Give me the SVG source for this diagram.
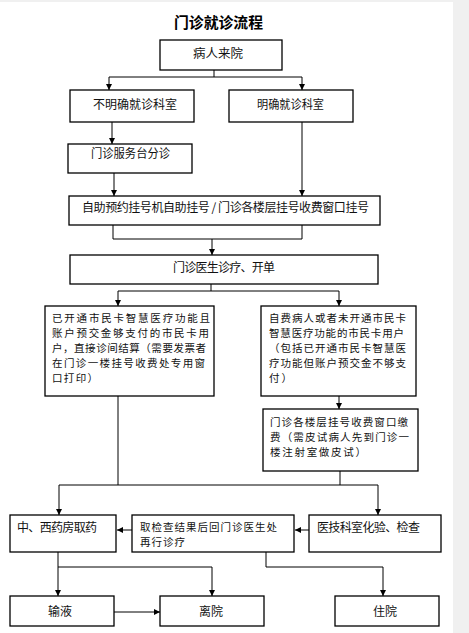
<svg xmlns="http://www.w3.org/2000/svg" width="469" height="633" viewBox="0 0 469 633">
<style>
.box{fill:#fff;stroke:#000;stroke-width:1.3}
.t{font-family:"Noto Sans CJK SC","Noto Sans CJK JP",sans-serif;font-size:12px;fill:#111}
.m{font-family:"Noto Sans CJK SC","Noto Sans CJK JP",sans-serif;font-size:10.5px;fill:#111}
.title{font-family:"Noto Sans CJK SC",sans-serif;font-size:15px;font-weight:bold;fill:#000}
.c{fill:none;stroke:#000;stroke-width:1}
</style>
<defs>
<marker id="ah" viewBox="0 0 8 8" refX="8" refY="4" markerWidth="6" markerHeight="6" markerUnits="userSpaceOnUse" orient="auto">
<path d="M0,0 L8,4 L0,8 z" fill="#000"/>
</marker>
</defs>
<rect x="0" y="0" width="469" height="633" fill="#fff"/>
<rect x="453" y="0" width="16" height="633" fill="#f0f0f0"/>
<rect x="0" y="0" width="453" height="2" fill="#f0f0f0"/>
<text class="title" x="174" y="27.5" textLength="89" lengthAdjust="spacingAndGlyphs">门诊就诊流程</text>

<g id="connectors">
<path class="c" d="M214,70 V77 M109,77 H302"/>
<path class="c" d="M109,77 V90" marker-end="url(#ah)"/>
<path class="c" d="M302,77 V90" marker-end="url(#ah)"/>
<path class="c" d="M112,122 V144" marker-end="url(#ah)"/>
<path class="c" d="M114,173 V196" marker-end="url(#ah)"/>
<path class="c" d="M302,122 V196" marker-end="url(#ah)"/>
<path class="c" d="M113,225 V239 H302 V225"/>
<path class="c" d="M212,239 V255" marker-end="url(#ah)"/>
<path class="c" d="M211,284 V291 M118,291 H339"/>
<path class="c" d="M118,291 V306" marker-end="url(#ah)"/>
<path class="c" d="M339,291 V306" marker-end="url(#ah)"/>
<path class="c" d="M339,396 V409" marker-end="url(#ah)"/>
<path class="c" d="M118,396 V485 M340,471 V485 M59,485 H378"/>
<path class="c" d="M59,485 V515" marker-end="url(#ah)"/>
<path class="c" d="M378,485 V515" marker-end="url(#ah)"/>
<path class="c" d="M309,530 H295" marker-end="url(#ah)"/>
<path class="c" d="M132,530 H117" marker-end="url(#ah)"/>
<path class="c" d="M58,552 V596" marker-end="url(#ah)"/>
<path class="c" d="M58,567 H212"/>
<path class="c" d="M212,567 V596" marker-end="url(#ah)"/>
<path class="c" d="M266,552 V567 H383"/>
<path class="c" d="M383,567 V596" marker-end="url(#ah)"/>
<path class="c" d="M114,612 H160" marker-end="url(#ah)"/>
</g>

<g id="n1"><rect class="box" x="160" y="40" width="122" height="30"/><text class="t" x="193" y="58" textLength="50" lengthAdjust="spacingAndGlyphs">病人来院</text></g>
<g id="n2"><rect class="box" x="70" y="90" width="124" height="32"/><text class="t" x="93" y="109" textLength="84" lengthAdjust="spacingAndGlyphs">不明确就诊科室</text></g>
<g id="n3"><rect class="box" x="229" y="90" width="124" height="32"/><text class="t" x="257" y="109" textLength="67" lengthAdjust="spacingAndGlyphs">明确就诊科室</text></g>
<g id="n4"><rect class="box" x="68" y="144" width="124" height="29"/><text class="t" x="91" y="158" textLength="79" lengthAdjust="spacingAndGlyphs">门诊服务台分诊</text></g>
<g id="n5"><rect class="box" x="69" y="196" width="311" height="29"/><text class="t" x="82" y="212" textLength="287" lengthAdjust="spacing">自助预约挂号机自助挂号 / 门诊各楼层挂号收费窗口挂号</text></g>
<g id="n6"><rect class="box" x="70" y="255" width="308" height="29"/><text class="t" x="173" y="272" textLength="102" lengthAdjust="spacing">门诊医生诊疗、开单</text></g>
<g id="n7"><rect class="box" x="45" y="306" width="169" height="90"/>
<text class="m" x="52" y="322" textLength="158" lengthAdjust="spacing">已开通市民卡智慧医疗功能且</text>
<text class="m" x="52" y="337" textLength="157" lengthAdjust="spacing">账户预交金够支付的市民卡用</text>
<text class="m" x="52" y="352" textLength="154" lengthAdjust="spacing">户，直接诊间结算（需要发票者</text>
<text class="m" x="52" y="367" textLength="153" lengthAdjust="spacing">在门诊一楼挂号收费处专用窗</text>
<text class="m" x="52" y="382" textLength="46" lengthAdjust="spacing">口打印）</text>
</g>
<g id="n8"><rect class="box" x="261" y="306" width="155" height="90"/>
<text class="m" x="269" y="322" textLength="137" lengthAdjust="spacing">自费病人或者未开通市民卡</text>
<text class="m" x="269" y="337" textLength="135" lengthAdjust="spacing">智慧医疗功能的市民卡用户</text>
<text class="m" x="269" y="352" textLength="137" lengthAdjust="spacing">（包括已开通市民卡智慧医</text>
<text class="m" x="269" y="367" textLength="137" lengthAdjust="spacing">疗功能但账户预交金不够支</text>
<text class="m" x="269" y="382" textLength="23" lengthAdjust="spacing">付）</text>
</g>
<g id="n9"><rect class="box" x="263" y="409" width="155" height="62"/>
<text class="m" x="270" y="426" textLength="138" lengthAdjust="spacing">门诊各楼层挂号收费窗口缴</text>
<text class="m" x="270" y="441" textLength="139" lengthAdjust="spacing">费（需皮试病人先到门诊一</text>
<text class="m" x="270" y="456" textLength="96" lengthAdjust="spacing">楼注射室做皮试）</text>
</g>
<g id="n10"><rect class="box" x="10" y="515" width="106" height="37"/><text class="t" x="17" y="531.5" textLength="80" lengthAdjust="spacing">中、西药房取药</text></g>
<g id="n11"><rect class="box" x="132" y="515" width="162" height="37"/>
<text class="m" x="140" y="531" textLength="137" lengthAdjust="spacing">取检查结果后回门诊医生处</text>
<text class="m" x="140" y="546" textLength="45" lengthAdjust="spacing">再行诊疗</text>
</g>
<g id="n12"><rect class="box" x="309" y="515" width="132" height="37"/><text class="t" x="317" y="531.5" textLength="103" lengthAdjust="spacing">医技科室化验、检查</text></g>
<g id="n13"><rect class="box" x="10" y="596" width="104" height="30"/><text class="t" x="48" y="615.5" textLength="24" lengthAdjust="spacing">输液</text></g>
<g id="n14"><rect class="box" x="160" y="596" width="104" height="30"/><text class="t" x="199" y="615.5" textLength="24" lengthAdjust="spacing">离院</text></g>
<g id="n15"><rect class="box" x="335" y="596" width="104" height="30"/><text class="t" x="373" y="615.5" textLength="24" lengthAdjust="spacing">住院</text></g>
</svg>
